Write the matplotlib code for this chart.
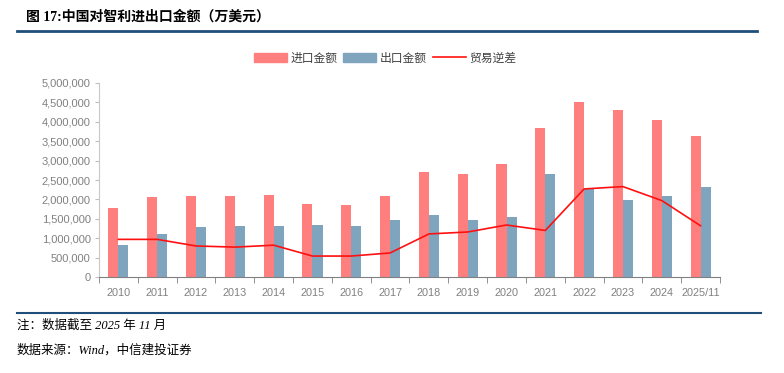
import numpy as np
import matplotlib.pyplot as plt
from matplotlib.lines import Line2D
from matplotlib.patches import Patch

plt.rcParams['font.family'] = ['Liberation Sans', 'Noto Sans CJK SC', 'DejaVu Sans']

years = ['2010', '2011', '2012', '2013', '2014', '2015', '2016', '2017',
         '2018', '2019', '2020', '2021', '2022', '2023', '2024', '2025/11']
imports = [1780000, 2070000, 2080000, 2090000, 2120000, 1880000, 1850000, 2090000,
           2710000, 2650000, 2900000, 3850000, 4520000, 4310000, 4040000, 3640000]
exports = [820000, 1100000, 1280000, 1320000, 1310000, 1340000, 1310000, 1460000,
           1600000, 1470000, 1540000, 2650000, 2260000, 1980000, 2080000, 2330000]
deficit = [970000, 970000, 800000, 770000, 820000, 540000, 540000, 620000,
           1110000, 1160000, 1340000, 1200000, 2270000, 2330000, 1970000, 1320000]

c_imp = '#FF7F7F'
c_exp = '#7FA5BE'
c_line = '#FF1010'
grey = '#808080'

fig = plt.figure(figsize=(7.84, 3.73), dpi=100)
ax = fig.add_axes([99 / 784, 1 - 277 / 373, (720 - 99) / 784, (277 - 83) / 373])

x = np.arange(len(years))
w = 0.26
ax.bar(x - w / 2, imports, w, color=c_imp, zorder=2)
ax.bar(x + w / 2, exports, w, color=c_exp, zorder=2)
ax.plot(x, deficit, color=c_line, lw=1.2, zorder=3)

ax.set_xlim(-0.5, len(years) - 0.5)
ax.set_ylim(0, 5000000)
ax.set_yticks(np.arange(0, 5000001, 500000))
ax.yaxis.set_major_formatter(plt.FuncFormatter(lambda v, p: f'{int(v):,}'))
ax.set_xticks(x)
ax.set_xticklabels(years)
ax.set_xticks(np.arange(-0.5, len(years), 1), minor=True)
ax.tick_params(axis='x', which='major', length=0, pad=8, labelsize=7.8, labelcolor=grey)
ax.tick_params(axis='x', which='minor', length=4, color=grey, direction='out')
ax.tick_params(axis='y', length=3, color='#c0c0c0', labelsize=8, labelcolor=grey, pad=3)
for s in ['top', 'right']:
    ax.spines[s].set_visible(False)
ax.spines['left'].set_color('#c8c8c8')
ax.spines['bottom'].set_color(grey)

handles = [Patch(color=c_imp, label='进口金额'),
           Patch(color=c_exp, label='出口金额'),
           Line2D([], [], color=c_line, lw=1.2, label='贸易逆差')]
leg = fig.legend(handles=handles, loc='center', bbox_to_anchor=(385 / 784, 1 - 58 / 373),
                 ncol=3, frameon=False, fontsize=8.5, handlelength=2.8, handleheight=0.8,
                 columnspacing=0.5, handletextpad=0.3, prop={'family': ['Noto Sans CJK SC'], 'size': 8.5})
for t in leg.get_texts():
    t.set_color('#404040')

fig.text(26 / 784, 1 - 17 / 373, '图 17:中国对智利进出口金额（万美元）', fontsize=10,
         fontweight='bold', va='center', ha='left',
         family=['Liberation Serif', 'Noto Sans CJK SC'])
fig.add_artist(Line2D([17 / 784, 757 / 784], [1 - 31 / 373, 1 - 31 / 373],
                      color='#1F4E79', lw=2))
fig.add_artist(Line2D([17 / 784, 761 / 784], [1 - 313 / 373, 1 - 313 / 373],
                      color='#1F4E79', lw=1.5))
fig.text(17 / 784, 1 - 326 / 373, '注：数据截至 2025 年 11 月', fontsize=9,
         style='italic', va='center', ha='left',
         family=['Liberation Serif', 'Noto Sans CJK SC'])
fig.text(17 / 784, 1 - 350 / 373, '数据来源：Wind，中信建投证券', fontsize=9,
         style='italic', va='center', ha='left',
         family=['Liberation Serif', 'Noto Sans CJK SC'])

fig.savefig('out.png', dpi=100)
